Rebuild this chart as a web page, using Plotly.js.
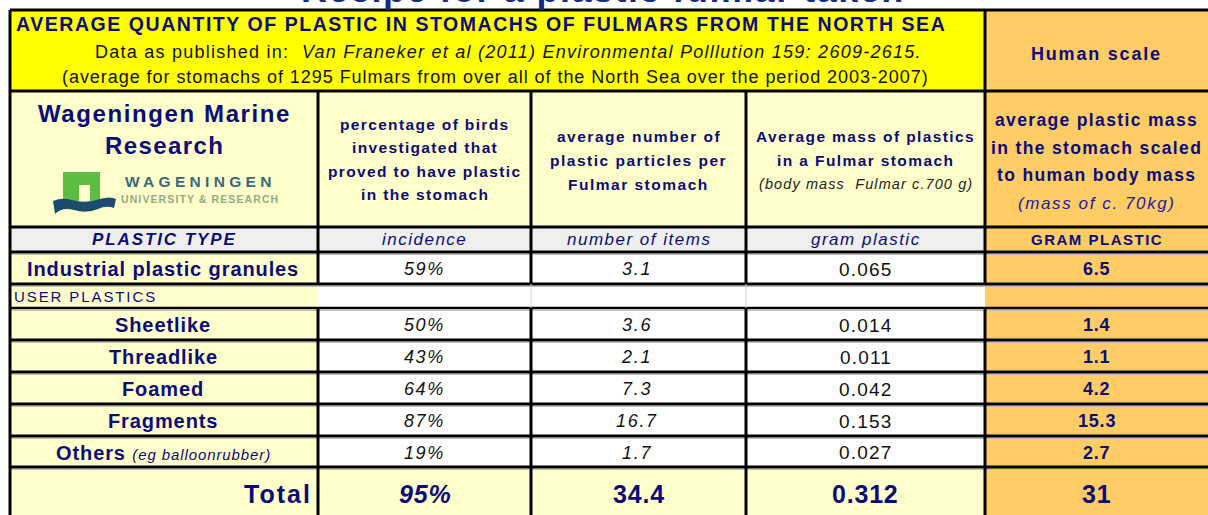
<!DOCTYPE html>
<html><head><meta charset="utf-8">
<script src="https://cdn.plot.ly/plotly-3.0.1.min.js"></script>
<style>html,body{margin:0;padding:0;background:#fff;overflow:hidden}#chart{width:1208px;height:515px}</style>
</head><body><div id="chart"></div>
<script>
// ---------- data ----------
const plasticTypes = ['Industrial plastic granules', 'Sheetlike', 'Threadlike', 'Foamed', 'Fragments', 'Others'];
const typeNotes = ['', '', '', '', '', '(eg balloonrubber)'];
const incidence = [59, 50, 43, 64, 87, 19];          // % of birds
const numberOfItems = [3.1, 3.6, 2.1, 7.3, 16.7, 1.7];
const gramPlastic = [0.065, 0.014, 0.011, 0.042, 0.153, 0.027];
const humanScaleGram = [6.5, 1.4, 1.1, 4.2, 15.3, 2.7];
const totalIncidence = 95;
const totalItems = 34.4;
const totalGram = 0.312;
const totalHuman = 31;
const unitLabels = ['PLASTIC TYPE', 'incidence', 'number of items', 'gram plastic', 'GRAM PLASTIC'];
const groupLabel = 'USER PLASTICS';

// ---------- layout geometry ----------
const W = 1208, H = 515;
const colX = [10, 318, 531, 746, 985, 1208];
const rowY = [10, 91, 227, 252, 284, 308, 340, 372, 404, 436, 467, 515];
const dataRows = [3, 5, 6, 7, 8, 9];
const userRow = 4, totalRow = 10;
const NAVY = '#0b0b7a', BLACK = '#111111';
const YEL = '#ffff00', LYEL = '#ffffcc', ORANGE = '#ffcc66', GRAY = '#efefef', WHITE = '#ffffff';
const FONT = 'Liberation Sans, Arial, sans-serif';

const cx = c => (colX[c] + colX[c + 1]) / 2;
const cy = r => (rowY[r] + rowY[r + 1]) / 2;

const shapes = [];
const annotations = [];
function rect(x0, y0, x1, y1, fill) {
  shapes.push({type: 'rect', xref: 'x', yref: 'y', x0, y0, x1, y1, fillcolor: fill, line: {width: 0}, layer: 'below'});
}
function hline(y, x0, x1, w, col) {
  shapes.push({type: 'line', xref: 'x', yref: 'y', x0, x1, y0: y, y1: y, line: {color: col || '#000', width: w || 3}});
}
function vline(x, y0, y1, w, col) {
  shapes.push({type: 'line', xref: 'x', yref: 'y', x0: x, x1: x, y0, y1, line: {color: col || '#000', width: w || 3}});
}
function ann(x, y, text, size, color, ls, opts) {
  const t = ls ? '<span style="letter-spacing:' + ls + 'px">' + text + '</span>' : text;
  annotations.push(Object.assign({xref: 'x', yref: 'y', x, y, text: t, showarrow: false,
    xanchor: 'center', yanchor: 'middle', font: {family: FONT, size, color}}, opts || {}));
}

// ---------- backgrounds ----------
rect(colX[0], rowY[0], colX[4], rowY[1], YEL);
rect(colX[0], rowY[1], colX[4], rowY[2], LYEL);
rect(colX[0], rowY[2], colX[4], rowY[3], GRAY);
for (let r = 3; r < totalRow; r++) {
  rect(colX[0], rowY[r], colX[1], rowY[r + 1], LYEL);
  rect(colX[1], rowY[r], colX[4], rowY[r + 1], WHITE);
}
rect(colX[0], rowY[totalRow], colX[4], rowY[totalRow + 1], LYEL);
rect(colX[4], rowY[0], colX[5], rowY[rowY.length - 1], ORANGE);

// ---------- grid lines ----------
for (let r = 3; r <= totalRow; r++) hline(rowY[r] + 2.5, colX[0], colX[5], 1, '#bdbdbd');
for (let r = 0; r < rowY.length - 1; r++) {
  if (r === userRow + 1) continue;
  hline(rowY[r], colX[0], colX[5], 3);
}
hline(rowY[userRow + 1], colX[0], colX[5], 2.5);
vline(colX[0], rowY[0], H, 3);
vline(colX[4], rowY[0], rowY[userRow], 3);
vline(colX[4], rowY[userRow + 1], H, 3);
for (let c = 1; c < 4; c++) {
  vline(colX[c], rowY[1], rowY[userRow], 3);
  vline(colX[c], rowY[userRow + 1], H, 3);
  if (c > 1) vline(colX[c], rowY[userRow], rowY[userRow + 1], 1, '#d0d0d0');
}

// ---------- cut-off page title ----------
ann(603, 12, '<b>Recipe for a plastic fulmar taken</b>', 36, '#1a2a80', 1.5, {yanchor: 'bottom'});

// ---------- header row 0 ----------
ann(14, 24, '<b>AVERAGE QUANTITY OF PLASTIC IN STOMACHS OF FULMARS FROM THE NORTH SEA</b>', 19.5, NAVY, 1.55, {xanchor: 'left'});
ann(508, 52, 'Data as published in:  <i>Van Franeker et al (2011) Environmental Polllution 159: 2609-2615.</i>', 18, BLACK, 1.25);
ann(495, 77, '(average for stomachs of 1295 Fulmars from over all of the North Sea over the period 2003-2007)', 18, BLACK, 0.95);
ann(cx(4), 54, '<b>Human scale</b>', 18, NAVY, 1.8);

// ---------- header row 1 ----------
ann(cx(0), 113, '<b>Wageningen Marine</b>', 24, NAVY, 1.6);
ann(cx(0), 145, '<b>Research</b>', 24, NAVY, 1.4);
// logo
shapes.push({type: 'path', xref: 'x', yref: 'y', path: 'M63,201 L63,172 L100,172 L100,201 L90,201 L90,185 L79,185 L79,201 Z', fillcolor: '#5cbc44', line: {width: 0}});
shapes.push({type: 'path', xref: 'x', yref: 'y', path: 'M53,201 Q62,197 72,200 Q86,204 100,199 Q110,196 116,199 L114,208 Q106,205 98,209 Q86,214 74,210 Q62,207 55,214 Z', fillcolor: '#1d4b6e', line: {width: 0}});
ann(200, 181, '<b>WAGENINGEN</b>', 15.5, '#3a6878', 4.3);
ann(200, 199, '<b>UNIVERSITY &amp; RESEARCH</b>', 10.5, '#8fac82', 1.1);

const h2 = ['percentage of birds', 'investigated that', 'proved to have plastic', 'in the stomach'];
h2.forEach((t, i) => ann(cx(1), 124 + i * 23.5, '<b>' + t + '</b>', 15.5, NAVY, 1.35));
const h3 = ['average number of', 'plastic particles per', 'Fulmar stomach'];
h3.forEach((t, i) => ann(cx(2), 136 + i * 24, '<b>' + t + '</b>', 15.5, NAVY, 1.5));
ann(cx(3), 136, '<b>Average mass of plastics</b>', 15.5, NAVY, 1.4);
ann(cx(3), 160, '<b>in a Fulmar stomach</b>', 15.5, NAVY, 1.4);
ann(cx(3), 184, '<i>(body mass  Fulmar c.700 g)</i>', 14.5, '#222', 1.1);
const h5 = ['average plastic mass', 'in the stomach scaled', 'to human body mass'];
h5.forEach((t, i) => ann(cx(4), 120 + i * 27.5, '<b>' + t + '</b>', 17.5, NAVY, 1.35));
ann(cx(4), 203, '<i>(mass of c. 70kg)</i>', 17, '#1a1aa0', 1.6);

// ---------- units row ----------
ann(cx(0), cy(2), '<b><i>' + unitLabels[0] + '</i></b>', 17, NAVY, 1.9);
for (let c = 1; c < 4; c++) ann(cx(c), cy(2), '<i>' + unitLabels[c] + '</i>', 17, NAVY, 1.5);
ann(cx(4), cy(2), '<b>' + unitLabels[4] + '</b>', 15, NAVY, 1.5);

// ---------- data rows ----------
ann(12, cy(userRow), groupLabel, 15, NAVY, 1.9, {xanchor: 'left'});
plasticTypes.forEach((name, i) => {
  const r = dataRows[i];
  const y = cy(r) + 1;
  let label = '<b>' + name + '</b>';
  if (typeNotes[i]) label += ' <i><span style="font-size:15px">' + typeNotes[i] + '</span></i>';
  ann(cx(0) - 1, y, label, 20, NAVY, 0.9);
  ann(cx(1), y, '<i>' + incidence[i] + '%</i>', 18, BLACK, 1.6);
  ann(cx(2) - 2, y, '<i>' + numberOfItems[i].toFixed(1) + '</i>', 18, BLACK, 1.7);
  ann(cx(3), y, gramPlastic[i].toFixed(3), 19, BLACK, 1.2);
  ann(cx(4), y, '<b>' + humanScaleGram[i].toFixed(1) + '</b>', 18, NAVY, 0.8);
});

// ---------- totals ----------
const ty = cy(totalRow) + 3;
ann(colX[1] - 4, ty, '<b>Total</b>', 25, NAVY, 2, {xanchor: 'right'});
ann(cx(1), ty, '<b><i>' + totalIncidence + '%</i></b>', 25, NAVY, 0.8);
ann(cx(2), ty, '<b>' + totalItems.toFixed(1) + '</b>', 25, NAVY, 0.8);
ann(cx(3), ty, '<b>' + totalGram.toFixed(3) + '</b>', 25, NAVY, 0.8);
ann(cx(4), ty, '<b>' + totalHuman + '</b>', 25, NAVY, 0.8);

const layout = {
  width: W, height: H,
  margin: {l: 0, r: 0, t: 0, b: 0, pad: 0},
  paper_bgcolor: '#ffffff', plot_bgcolor: '#ffffff',
  showlegend: false,
  xaxis: {range: [0, W], visible: false, fixedrange: true},
  yaxis: {range: [H, 0], visible: false, fixedrange: true},
  shapes, annotations
};
Plotly.newPlot('chart', [{type: 'scatter', x: [], y: [], hoverinfo: 'skip'}], layout, {staticPlot: true, displayModeBar: false});
</script>
</body></html>
